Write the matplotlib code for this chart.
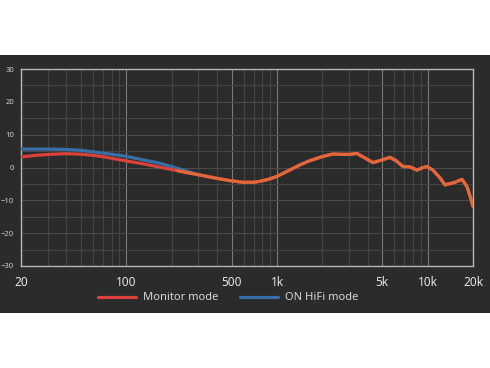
import matplotlib

matplotlib.use("Agg")
import matplotlib.pyplot as plt
import matplotlib.ticker as ticker
from matplotlib.patches import Rectangle

plt.rcParams["font.family"] = ["Noto Sans", "DejaVu Sans"]

# Frequency response (Hz, dB)
monitor_freq = [20, 25, 31, 39, 48, 57, 70, 100, 130, 167, 220, 308, 400, 488, 594,
                700, 771, 880, 1000, 1200, 1422, 1656, 1930, 2150, 2354, 2700, 3053,
                3396, 3800, 4338, 4900, 5624, 6200, 6860, 7640, 8500, 9200, 9900,
                10850, 12000, 13040, 15000, 16900, 18240, 19200, 20000]
monitor_db = [3.2, 3.7, 4.0, 4.2, 4.1, 3.8, 3.3, 2.0, 1.1, 0.1, -1.0, -2.3, -3.3, -4.0, -4.5,
              -4.5, -4.2, -3.6, -2.7, -0.9, 0.8, 2.1, 3.1, 3.7, 4.1, 4.0, 4.0,
              4.3, 3.0, 1.5, 2.2, 3.1, 2.0, 0.3, 0.2, -0.8, -0.1, 0.3,
              -0.8, -3.0, -5.3, -4.6, -3.6, -5.8, -9.0, -11.9]

hifi_freq = [20, 25, 31, 39, 48, 57, 70, 100, 130, 167, 220, 308]
hifi_db = [5.6, 5.6, 5.6, 5.5, 5.3, 4.9, 4.4, 3.4, 2.3, 1.3, -0.3, -2.3]

shared_from = 220  # from here on both modes follow one curve

x_ticks = [20, 100, 500, 1000, 5000, 10000, 20000]
x_tick_labels = ["20", "100", "500", "1k", "5k", "10k", "20k"]
y_ticks = [-30, -20, -10, 0, 10, 20, 30]

BG = "#2b2b2b"
RED = "#d9413a"
ORANGE = "#e0683a"
BLUE = "#3a6ea8"

fig = plt.figure(figsize=(4.9, 3.68), dpi=100, facecolor="white")
fig.add_artist(
    Rectangle((0, 1 - 313 / 368), 1, (313 - 55) / 368, transform=fig.transFigure,
              facecolor=BG, edgecolor="none", zorder=-10)
)

ax = fig.add_axes([21 / 490, 1 - 266 / 368, (473 - 21) / 490, (266 - 69) / 368])
ax.set_zorder(1)
ax.set_facecolor(BG)
ax.set_xscale("log")
ax.set_xlim(20, 20000)
ax.set_ylim(-30, 30)

ax.xaxis.set_major_locator(ticker.FixedLocator(x_ticks))
ax.xaxis.set_major_formatter(ticker.FixedFormatter(x_tick_labels))
ax.xaxis.set_minor_locator(ticker.LogLocator(base=10, subs=range(1, 10), numticks=20))
ax.xaxis.set_minor_formatter(ticker.NullFormatter())
ax.set_yticks(y_ticks)
ax.yaxis.set_minor_locator(ticker.MultipleLocator(5))

ax.grid(True, which="minor", color="#444444", linewidth=0.8)
ax.grid(True, which="major", axis="y", color="#4a4a4a", linewidth=0.8)
ax.grid(True, which="major", axis="x", color="#7a7a7a", linewidth=0.8)
ax.tick_params(which="both", length=0)
ax.tick_params(axis="x", labelsize=8.5, labelcolor="#e6e6e6", pad=7)
ax.tick_params(axis="y", labelsize=5.5, labelcolor="#cfcfcf", pad=5)
for spine in ax.spines.values():
    spine.set_color("#b5b5b5")
    spine.set_linewidth(1.0)

ax.plot(hifi_freq, hifi_db, color=BLUE, linewidth=2.3, solid_capstyle="round",
        label="ON HiFi mode", zorder=3)
ax.plot(monitor_freq, monitor_db, color=RED, linewidth=2.3, solid_capstyle="round",
        label="Monitor mode", zorder=4)
shared = [(f, v) for f, v in zip(monitor_freq, monitor_db) if f >= shared_from]
ax.plot([f for f, _ in shared], [v for _, v in shared], color=ORANGE, linewidth=2.3,
        solid_capstyle="round", zorder=5)

handles, labels = ax.get_legend_handles_labels()
fig.legend(handles[::-1], labels[::-1], loc="center", bbox_to_anchor=(228 / 490, 1 - 298 / 368),
           ncol=2, frameon=False, fontsize=8, labelcolor="#d8d8d8",
           handlelength=3.4, columnspacing=2.0, handletextpad=0.6)

fig.savefig("out.png", dpi=100, facecolor=fig.get_facecolor())
